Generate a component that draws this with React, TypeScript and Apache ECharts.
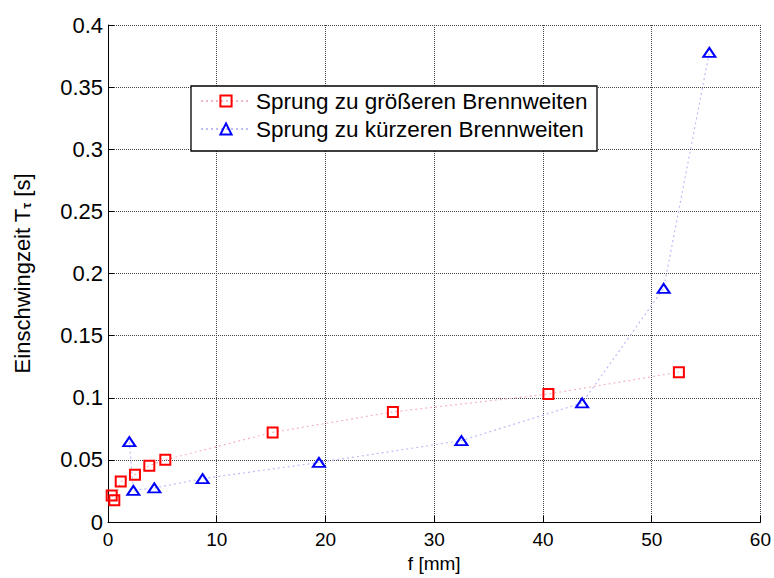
import React, { useEffect, useRef } from "react";
import * as echarts from "echarts";

const FONT = "Liberation Sans, Arial, Helvetica, sans-serif";

const legendNames = ["Sprung zu größeren Brennweiten", "Sprung zu kürzeren Brennweiten"];

// f [mm] and settling time [s], jump towards longer focal lengths
const longerF = [0.34, 0.58, 1.17, 2.48, 3.8, 5.27, 15.14, 26.2, 40.5, 52.5];
const longerT = [0.0213, 0.0176, 0.0325, 0.0381, 0.0453, 0.0501, 0.0721, 0.0886, 0.103, 0.1206];

// jump towards shorter focal lengths
const shorterF = [1.96, 2.33, 4.26, 8.7, 19.4, 32.5, 43.6, 51.1, 55.3];
const shorterT = [0.0647, 0.0255, 0.0274, 0.0349, 0.0479, 0.0655, 0.0958, 0.188, 0.378];

const xTicks = { min: 0, max: 60, interval: 10 };
const yTicks = { min: 0, max: 0.4, interval: 0.05 };

const pairs = (xs: number[], ys: number[]) => xs.map((x, i) => [x, ys[i]]);

export default function App() {
  const ref = useRef<HTMLDivElement>(null);

  useEffect(() => {
    document.body.style.margin = "0";
    if (!ref.current) return;
    const chart = echarts.init(ref.current, null, { renderer: "svg" });

    const gridLine = { show: true, lineStyle: { color: "#444", width: 1, type: [1, 1] as number[] } };

    chart.setOption({
      animation: false,
      backgroundColor: "#fff",
      textStyle: { fontFamily: FONT },
      grid: { left: 108, right: 13, top: 25, bottom: 51, containLabel: false },
      xAxis: {
        type: "value",
        ...xTicks,
        name: "f [mm]",
        nameLocation: "middle",
        nameGap: 32,
        nameTextStyle: { fontFamily: FONT, fontSize: 19, color: "#000" },
        axisLine: { show: true, onZero: false, lineStyle: { color: "#000", width: 1 } },
        axisTick: { show: true, inside: true, length: 6, lineStyle: { color: "#000" } },
        axisLabel: { fontFamily: FONT, fontSize: 19, color: "#000", margin: 8 },
        splitLine: gridLine,
      },
      yAxis: {
        type: "value",
        ...yTicks,
        name: "{a|Einschwingzeit T}{s|τ}{a| [s]}",
        nameLocation: "middle",
        nameGap: 75,
        nameTextStyle: {
          color: "#000",
          rich: {
            a: { fontFamily: FONT, fontSize: 22, color: "#000", lineHeight: 24, verticalAlign: "bottom" },
            s: { fontFamily: FONT, fontSize: 13, fontWeight: "bold", color: "#000", lineHeight: 12, verticalAlign: "bottom" },
          },
        },
        axisLine: { show: true, onZero: false, lineStyle: { color: "#000", width: 1 } },
        axisTick: { show: true, inside: true, length: 6, lineStyle: { color: "#000" } },
        axisLabel: { fontFamily: FONT, fontSize: 22, color: "#000", margin: 5 },
        splitLine: gridLine,
      },
      legend: {
        orient: "vertical",
        left: 191,
        top: 86,
        itemWidth: 50,
        itemHeight: 14,
        itemGap: 4,
        itemTextGap: 5,
        padding: [3, 8, 10, 9],
        borderColor: "#000",
        borderWidth: 1.3,
        backgroundColor: "#fff",
        textStyle: { fontFamily: FONT, fontSize: 22.5, color: "#000", lineHeight: 24, width: 333 },
        data: legendNames,
      },
      series: [
        {
          name: legendNames[0],
          type: "line",
          data: pairs(longerF, longerT),
          symbol: "rect",
          symbolSize: 10,
          itemStyle: { color: "rgba(255,255,255,0)", borderColor: "#ff0000", borderWidth: 2 },
          lineStyle: { color: "#f4b4c4", width: 1.2, type: [2, 3] },
          z: 3,
        },
        {
          name: legendNames[1],
          type: "line",
          data: pairs(shorterF, shorterT),
          symbol: "triangle",
          symbolSize: [12, 9],
          itemStyle: { color: "rgba(255,255,255,0)", borderColor: "#0000ff", borderWidth: 2 },
          lineStyle: { color: "#bcbcf6", width: 1.2, type: [2, 3] },
          z: 3,
        },
      ],
    });

    return () => chart.dispose();
  }, []);

  return <div ref={ref} style={{ width: 774, height: 578 }} />;
}
